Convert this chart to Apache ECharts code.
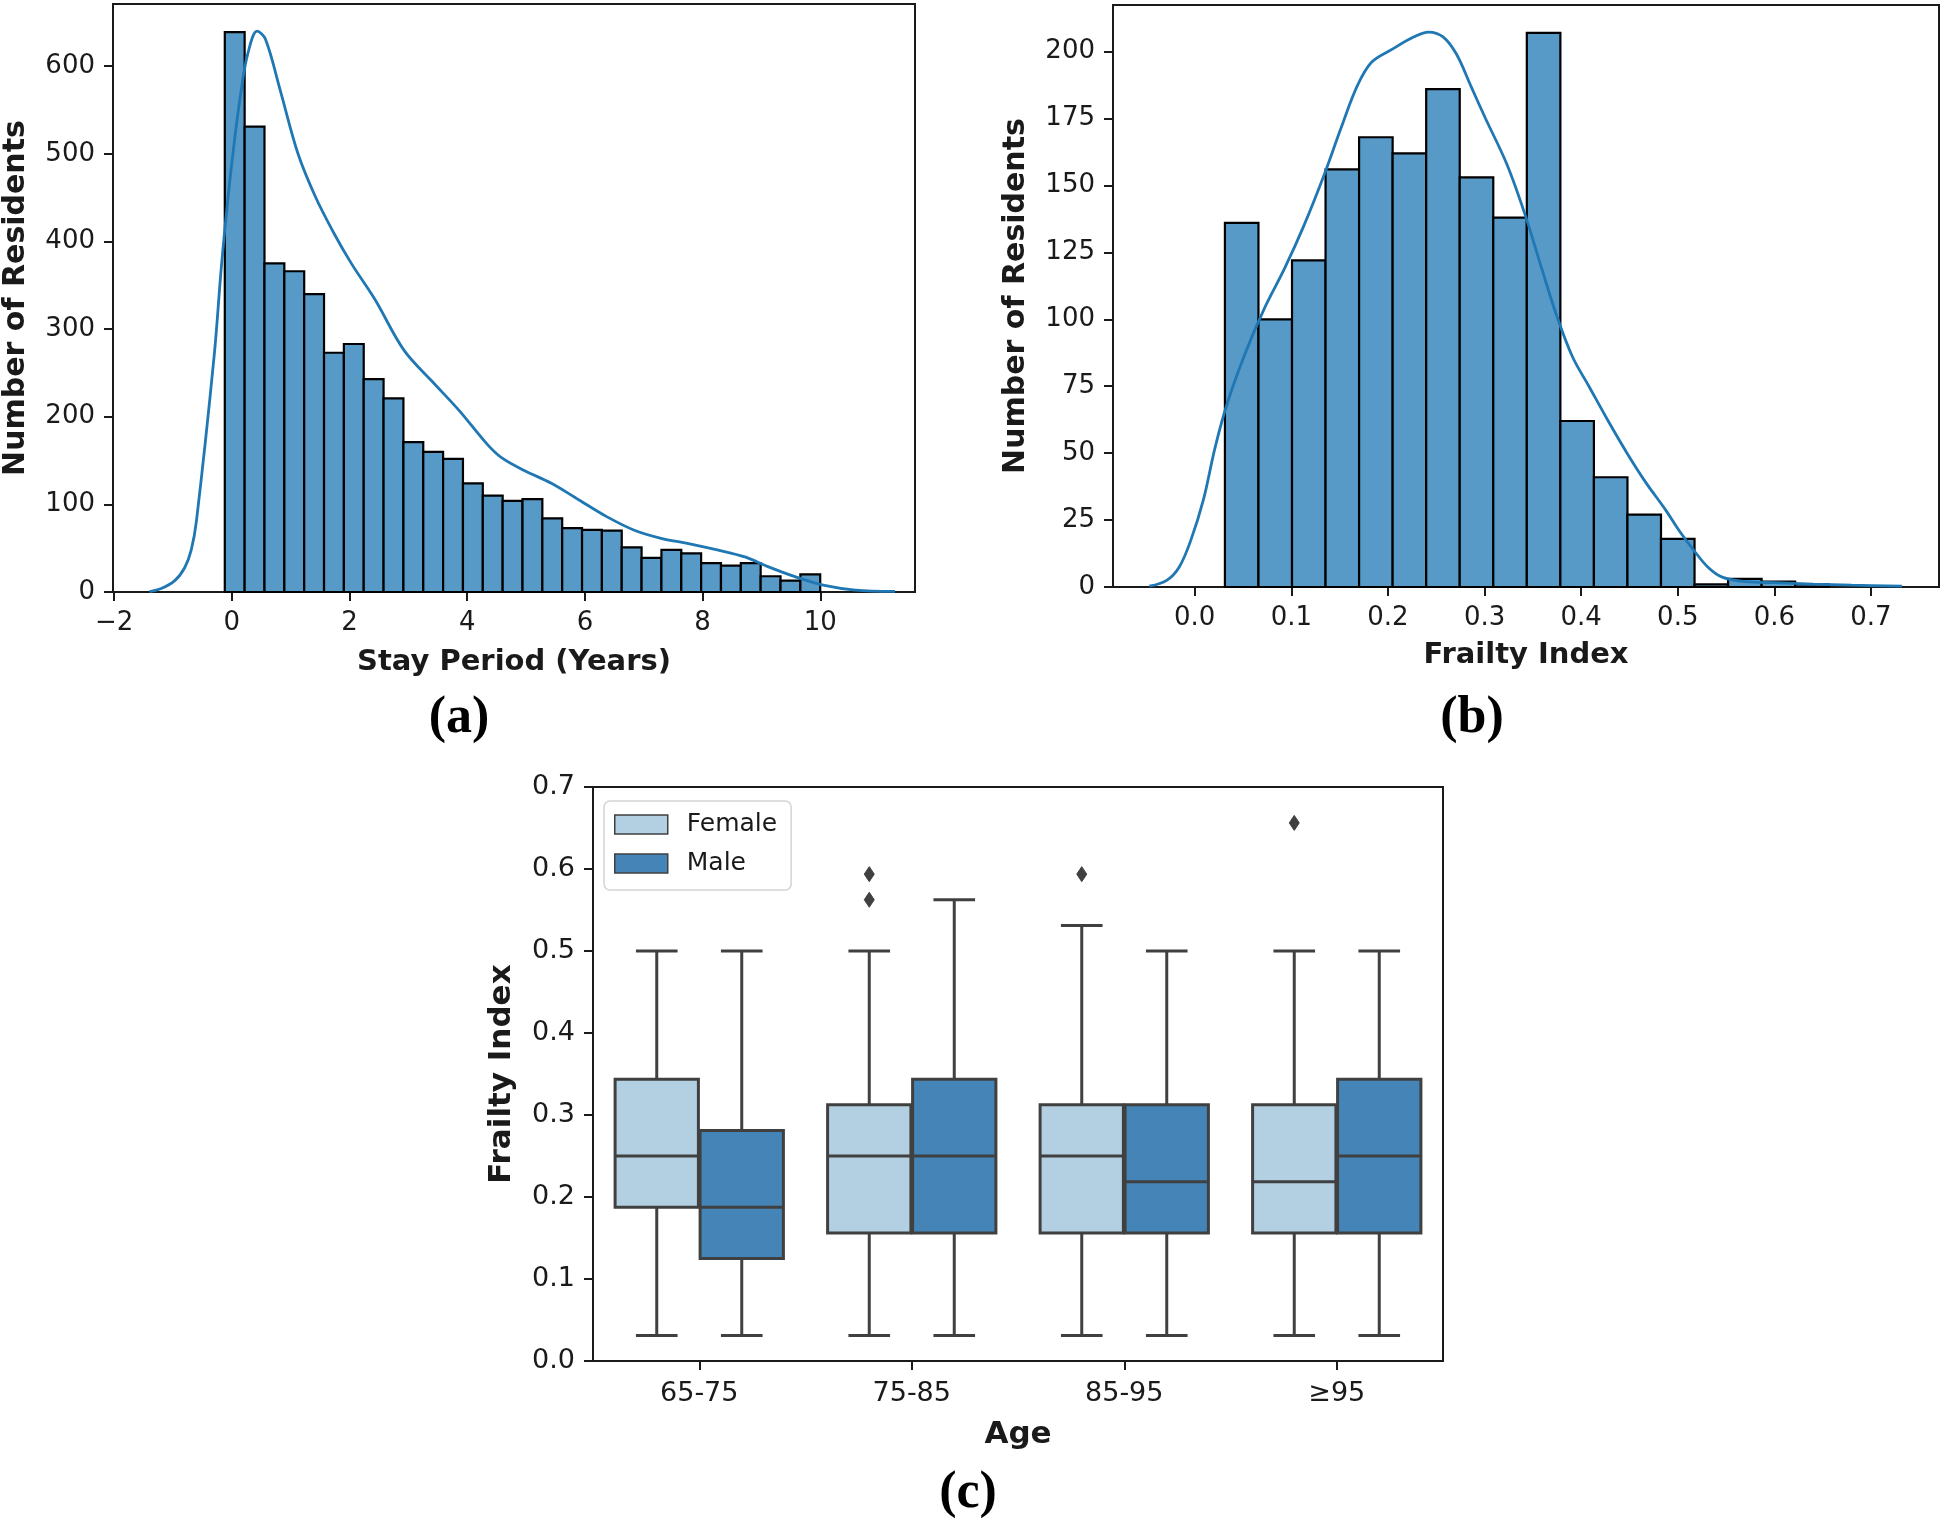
<!DOCTYPE html>
<html>
<head>
<meta charset="utf-8">
<script src="https://cdn.jsdelivr.net/npm/echarts@6/dist/echarts.min.js"></script>
<style>
html,body{margin:0;padding:0;background:#ffffff;}
#chart{width:1944px;height:1523px;}
</style>
</head>
<body>
<div id="chart"></div>
<script>
// ---------- (a) Stay period histogram ----------
const stayBinStart = -0.12;
const stayBinWidth = 0.3373;
const stayCounts = [639,531,375,366,340,273,283,243,221,171,160,152,124,110,104,106,84,73,71,70,51,39,48,44,33,30,33,18,13,20];
const stayKde = [[-1.40,0.5],[-1.2,4],[-0.97,13],[-0.8,28],[-0.69,48],[-0.6,82],[-0.3,270],[-0.18,370],[-0.07,447],[0.044,515],[0.158,572],[0.27,614],[0.43,640],[0.57,631],[0.82,573],[1.12,501],[1.42,451],[1.73,410],[2.03,375],[2.43,334],[2.924,276],[3.394,241],[3.864,207],[4.334,169],[4.57,154],[4.96,139],[5.43,124],[5.90,105],[6.37,86],[6.84,70.5],[7.31,61],[7.78,55],[8.25,48],[8.72,40],[9.11,29],[9.58,17.3],[10.05,7.8],[10.6,2.1],[11.27,0.6]];
const stayXTicks = [-2,0,2,4,6,8,10];
const stayYTicks = [0,100,200,300,400,500,600];

// ---------- (b) Frailty index histogram ----------
const frailBinStart = 0.03125;
const frailBinWidth = 0.034722;
const frailCounts = [136,100,122,156,168,162,186,153,138,207,62,41,27,18,1,3,2,1];
const frailKde = [[-0.047,0.3],[-0.029,2.5],[-0.016,7.5],[-0.004,17.5],[0.009,32.6],[0.021,52],[0.034,69],[0.053,88],[0.072,104],[0.093,119],[0.113,135],[0.134,154],[0.152,172],[0.168,187],[0.183,196],[0.205,201],[0.227,205.5],[0.242,207.3],[0.257,205.5],[0.271,199],[0.286,187],[0.301,175],[0.323,158],[0.342,139],[0.360,118],[0.375,101],[0.391,86],[0.408,75],[0.428,62],[0.4475,50],[0.467,39],[0.487,29],[0.5015,21],[0.516,14],[0.531,7.5],[0.546,3.7],[0.57,2],[0.6,1.6],[0.64,1.1],[0.68,0.7],[0.732,0.3]];
const frailXTicks = [0,0.1,0.2,0.3,0.4,0.5,0.6,0.7];
const frailYTicks = [0,25,50,75,100,125,150,175,200];

// ---------- (c) Box plot by age and sex ----------
const ageGroups = ['65-75','75-85','85-95','≥95'];
// [whisker low, Q1, median, Q3, whisker high]
const femaleBox = [[0.03125,0.1875,0.25,0.34375,0.5],[0.03125,0.15625,0.25,0.3125,0.5],[0.03125,0.15625,0.25,0.3125,0.53125],[0.03125,0.15625,0.21875,0.3125,0.5]];
const maleBox = [[0.03125,0.125,0.1875,0.28125,0.5],[0.03125,0.15625,0.25,0.34375,0.5625],[0.03125,0.15625,0.21875,0.3125,0.5],[0.03125,0.15625,0.25,0.34375,0.5]];
// [age group index, value]
const femaleOutliers = [[1,0.5625],[1,0.59375],[2,0.59375],[3,0.65625]];
const maleOutliers = [];
const boxYTicks = [0,0.1,0.2,0.3,0.4,0.5,0.6,0.7];

// ---------- styling ----------
const FONT = 'DejaVu Sans';
const TXT = '#1a1a1a';
const SPINE = '#1a1a1a';
const HIST_FILL = '#5799c7';
const KDE_COLOR = '#1f77b4';
const FEMALE_COLOR = '#b3cfe2';
const MALE_COLOR = '#4584b6';
const BOX_LINE = '#404040';

function histData(start, width, counts) {
  return counts.map((c, i) => [start + i * width, start + (i + 1) * width, c]);
}
function histRender(params, api) {
  const p0 = api.coord([api.value(0), 0]);
  const p1 = api.coord([api.value(1), api.value(2)]);
  return {
    type: 'rect',
    shape: {x: p0[0], y: p1[1], width: p1[0] - p0[0], height: p0[1] - p1[1]},
    style: {fill: HIST_FILL, stroke: '#000', lineWidth: 2.2}
  };
}
function boxRender(side, fill) {
  return function (params, api) {
    const c = api.value(0);
    const bw = api.size([1, 0])[0];
    const cx = api.coord([c, 0])[0] + side * 0.2 * bw;
    const half = 0.196 * bw;
    const capHalf = half / 2;
    const y = k => api.coord([c, api.value(k)])[1];
    const yMin = y(1), yQ1 = y(2), yMed = y(3), yQ3 = y(4), yMax = y(5);
    const ln = {stroke: BOX_LINE, lineWidth: 3};
    return {type: 'group', children: [
      {type: 'line', shape: {x1: cx, y1: yQ1, x2: cx, y2: yMin}, style: ln},
      {type: 'line', shape: {x1: cx, y1: yQ3, x2: cx, y2: yMax}, style: ln},
      {type: 'line', shape: {x1: cx - capHalf, y1: yMin, x2: cx + capHalf, y2: yMin}, style: ln},
      {type: 'line', shape: {x1: cx - capHalf, y1: yMax, x2: cx + capHalf, y2: yMax}, style: ln},
      {type: 'rect', shape: {x: cx - half, y: yQ3, width: 2 * half, height: yQ1 - yQ3}, style: {fill: fill, stroke: BOX_LINE, lineWidth: 3}},
      {type: 'line', shape: {x1: cx - half, y1: yMed, x2: cx + half, y2: yMed}, style: ln}
    ]};
  };
}
function outlierRender(side) {
  return function (params, api) {
    const c = api.value(0);
    const bw = api.size([1, 0])[0];
    const p = api.coord([c, api.value(1)]);
    const cx = p[0] + side * 0.2 * bw, cy = p[1];
    return {
      type: 'polygon',
      shape: {points: [[cx, cy - 7.5], [cx + 5, cy], [cx, cy + 7.5], [cx - 5, cy]]},
      style: {fill: BOX_LINE, stroke: BOX_LINE, lineWidth: 1}
    };
  };
}

const tickLabel = {fontFamily: FONT, fontSize: 26, color: TXT};
const nameStyle = {fontFamily: FONT, fontSize: 30, fontWeight: 'bold', color: TXT};
const axisLine = {show: true, onZero: false, lineStyle: {color: SPINE, width: 2}};
const axisTick = {show: true, length: 9, inside: false, lineStyle: {color: SPINE, width: 2}};
const minus = v => (v < 0 ? '\u2212' + Math.abs(v) : String(v));
const panelFont = 'bold 52px "Liberation Serif"';

const option = {
  backgroundColor: '#ffffff',
  animation: false,
  grid: [
    {left: 112, top: 4, width: 803, height: 588, show: true, borderColor: SPINE, borderWidth: 2, backgroundColor: 'transparent'},
    {left: 1113, top: 5, width: 826, height: 582, show: true, borderColor: SPINE, borderWidth: 2, backgroundColor: 'transparent'},
    {left: 593, top: 787, width: 850, height: 574, show: true, borderColor: SPINE, borderWidth: 2, backgroundColor: 'transparent'}
  ],
  xAxis: [
    {gridIndex: 0, type: 'value', min: -2.02, max: 11.61,
     name: 'Stay Period (Years)', nameLocation: 'middle', nameGap: 56, nameTextStyle: Object.assign({}, nameStyle, {fontSize: 29}),
     axisLine: axisLine, axisTick: Object.assign({}, axisTick, {customValues: stayXTicks}),
     axisLabel: Object.assign({}, tickLabel, {margin: 18, customValues: stayXTicks, formatter: minus}),
     splitLine: {show: false}},
    {gridIndex: 1, type: 'value', min: -0.0846, max: 0.7704,
     name: 'Frailty Index', nameLocation: 'middle', nameGap: 54, nameTextStyle: Object.assign({}, nameStyle, {fontSize: 29}),
     axisLine: axisLine, axisTick: Object.assign({}, axisTick, {customValues: frailXTicks}),
     axisLabel: Object.assign({}, tickLabel, {margin: 18, customValues: frailXTicks, formatter: v => v.toFixed(1)}),
     splitLine: {show: false}},
    {gridIndex: 2, type: 'category', data: ageGroups, boundaryGap: true,
     name: 'Age', nameLocation: 'middle', nameGap: 58, nameTextStyle: Object.assign({}, nameStyle, {fontSize: 31}),
     axisLine: axisLine, axisTick: Object.assign({}, axisTick, {alignWithLabel: true}),
     axisLabel: Object.assign({}, tickLabel, {margin: 19, fontSize: 27}),
     splitLine: {show: false}}
  ],
  yAxis: [
    {gridIndex: 0, type: 'value', min: 0, max: 671,
     name: 'Number of Residents', nameLocation: 'middle', nameGap: 82, nameRotate: 90, nameTextStyle: nameStyle,
     axisLine: axisLine, axisTick: Object.assign({}, axisTick, {customValues: stayYTicks}),
     axisLabel: Object.assign({}, tickLabel, {margin: 18, customValues: stayYTicks}),
     splitLine: {show: false}},
    {gridIndex: 1, type: 'value', min: 0, max: 217.4,
     name: 'Number of Residents', nameLocation: 'middle', nameGap: 82, nameRotate: 90, nameTextStyle: nameStyle,
     axisLine: axisLine, axisTick: Object.assign({}, axisTick, {customValues: frailYTicks}),
     axisLabel: Object.assign({}, tickLabel, {margin: 18, customValues: frailYTicks}),
     splitLine: {show: false}},
    {gridIndex: 2, type: 'value', min: 0, max: 0.7,
     name: 'Frailty Index', nameLocation: 'middle', nameGap: 76, nameRotate: 90, nameTextStyle: Object.assign({}, nameStyle, {fontSize: 31}),
     axisLine: axisLine, axisTick: Object.assign({}, axisTick, {customValues: boxYTicks}),
     axisLabel: Object.assign({}, tickLabel, {margin: 18, fontSize: 27, customValues: boxYTicks, formatter: v => v.toFixed(1)}),
     splitLine: {show: false}}
  ],
  legend: {
    data: [
      {name: 'Female', icon: 'rect', itemStyle: {color: FEMALE_COLOR, borderColor: BOX_LINE, borderWidth: 1.5}},
      {name: 'Male', icon: 'rect', itemStyle: {color: MALE_COLOR, borderColor: BOX_LINE, borderWidth: 1.5}}
    ],
    orient: 'vertical', left: 604, top: 801,
    itemWidth: 53, itemHeight: 19, itemGap: 14,
    padding: [11, 14, 14, 10],
    borderColor: '#d4d4d4', borderWidth: 1.5, borderRadius: 6,
    backgroundColor: 'rgba(255,255,255,0.85)',
    selectedMode: false,
    textStyle: {fontFamily: FONT, fontSize: 25, color: TXT, padding: [0, 0, 0, 14]}
  },
  graphic: [
    {type: 'text', x: 459, y: 719, style: {text: '(a)', font: panelFont, fill: '#000', textAlign: 'center', textVerticalAlign: 'middle'}},
    {type: 'text', x: 1472, y: 719, style: {text: '(b)', font: panelFont, fill: '#000', textAlign: 'center', textVerticalAlign: 'middle'}},
    {type: 'text', x: 968, y: 1494, style: {text: '(c)', font: panelFont, fill: '#000', textAlign: 'center', textVerticalAlign: 'middle'}}
  ],
  series: [
    {type: 'custom', name: 'stayHist', xAxisIndex: 0, yAxisIndex: 0, renderItem: histRender,
     encode: {x: [0, 1], y: 2}, data: histData(stayBinStart, stayBinWidth, stayCounts), z: 2},
    {type: 'line', name: 'stayKde', xAxisIndex: 0, yAxisIndex: 0, data: stayKde, smooth: 0.35,
     showSymbol: false, lineStyle: {color: KDE_COLOR, width: 2.8}, z: 3},
    {type: 'custom', name: 'frailHist', xAxisIndex: 1, yAxisIndex: 1, renderItem: histRender,
     encode: {x: [0, 1], y: 2}, data: histData(frailBinStart, frailBinWidth, frailCounts), z: 2},
    {type: 'line', name: 'frailKde', xAxisIndex: 1, yAxisIndex: 1, data: frailKde, smooth: 0.35,
     showSymbol: false, lineStyle: {color: KDE_COLOR, width: 2.8}, z: 3},
    {type: 'custom', name: 'Female', xAxisIndex: 2, yAxisIndex: 2, renderItem: boxRender(-1, FEMALE_COLOR),
     itemStyle: {color: FEMALE_COLOR}, encode: {x: 0, y: [1, 2, 3, 4, 5]},
     data: femaleBox.map((b, i) => [i].concat(b)), z: 2},
    {type: 'custom', name: 'Male', xAxisIndex: 2, yAxisIndex: 2, renderItem: boxRender(1, MALE_COLOR),
     itemStyle: {color: MALE_COLOR}, encode: {x: 0, y: [1, 2, 3, 4, 5]},
     data: maleBox.map((b, i) => [i].concat(b)), z: 2},
    {type: 'custom', name: 'Female outliers', xAxisIndex: 2, yAxisIndex: 2, renderItem: outlierRender(-1),
     encode: {x: 0, y: 1}, data: femaleOutliers, z: 3},
    {type: 'custom', name: 'Male outliers', xAxisIndex: 2, yAxisIndex: 2, renderItem: outlierRender(1),
     encode: {x: 0, y: 1}, data: maleOutliers, z: 3}
  ]
};

const chart = echarts.init(document.getElementById('chart'), null, {renderer: 'canvas'});
chart.setOption(option);
</script>
</body>
</html>
